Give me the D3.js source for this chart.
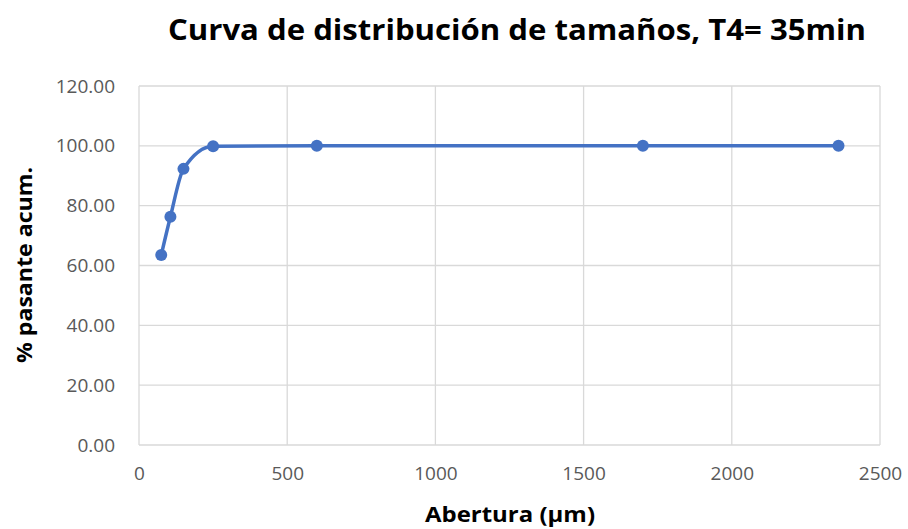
<!DOCTYPE html>
<html><head><meta charset="utf-8">
<script src="https://cdn.jsdelivr.net/npm/d3@7"></script>
<style>body{margin:0;background:#fff}svg{display:block}</style>
</head><body>
<svg id="c" width="908" height="529"></svg>
<script>
const aperture = [75, 106, 150, 250, 600, 1700, 2360];
const passing = [63.5, 76.3, 92.3, 99.9, 100, 100, 100];
const xTicks = [0, 500, 1000, 1500, 2000, 2500];
const yTicks = [0, 20, 40, 60, 80, 100, 120];
const title = "Curva de distribución de tamaños, T4= 35min";
const xTitle = "Abertura  (µm)";
const yTitle = "% pasante acum.";

const svg = d3.select("#c");
const font = "'Open Sans', 'Liberation Sans', sans-serif";
const L = 139, R = 880, T = 86, B = 445;
const x = d3.scaleLinear().domain([0, 2500]).range([L, R]);
const y = d3.scaleLinear().domain([0, 120]).range([B, T]);

// gridlines
svg.append("g").selectAll("line").data(yTicks).join("line")
  .attr("x1", L).attr("x2", R).attr("y1", d => y(d)).attr("y2", d => y(d))
  .attr("stroke", "#d9d9d9").attr("stroke-width", 1.3);
svg.append("g").selectAll("line").data(xTicks).join("line")
  .attr("y1", T).attr("y2", B).attr("x1", d => x(d)).attr("x2", d => x(d))
  .attr("stroke", "#d9d9d9").attr("stroke-width", 1.3);

// axes labels
const xa = d3.axisBottom(x).tickValues(xTicks).tickSize(0).tickPadding(22).tickFormat(d3.format("d"));
const gx = svg.append("g").attr("transform", `translate(0,${B})`).call(xa);
gx.select(".domain").remove();
gx.selectAll("text").attr("font-family", font).attr("font-size", 19).attr("fill", "#595959");

const ya = d3.axisLeft(y).tickValues(yTicks).tickSize(0).tickPadding(24).tickFormat(d3.format(".2f"));
const gy = svg.append("g").attr("transform", `translate(${L},0)`).call(ya);
gy.select(".domain").remove();
gy.selectAll("text").attr("font-family", font).attr("font-size", 19).attr("fill", "#595959");

// line
const pts = aperture.map((a, i) => [a, passing[i]]);
const line = d3.line().x(d => x(d[0])).y(d => y(d[1])).curve(d3.curveMonotoneX);
svg.append("path").datum(pts).attr("d", line)
  .attr("fill", "none").attr("stroke", "#4472C4").attr("stroke-width", 3.5)
  .attr("stroke-linejoin", "round");
svg.append("g").selectAll("circle").data(pts).join("circle")
  .attr("cx", d => x(d[0])).attr("cy", d => y(d[1])).attr("r", 6)
  .attr("fill", "#4472C4");

// titles
svg.append("text").attr("x", 517).attr("y", 40).attr("text-anchor", "middle")
  .attr("font-family", font).attr("font-weight", "bold").attr("font-size", 28)
  .attr("textLength", 698).attr("lengthAdjust", "spacingAndGlyphs")
  .attr("fill", "#000").text(title);
svg.append("text").attr("x", 510).attr("y", 522).attr("text-anchor", "middle")
  .attr("font-family", font).attr("font-weight", "bold").attr("font-size", 21)
  .attr("textLength", 170).attr("lengthAdjust", "spacingAndGlyphs")
  .attr("fill", "#000").text(xTitle);
svg.append("text").attr("transform", "translate(32,265) rotate(-90)").attr("text-anchor", "middle")
  .attr("font-family", font).attr("font-weight", "bold").attr("font-size", 21)
  .attr("textLength", 196).attr("lengthAdjust", "spacingAndGlyphs")
  .attr("fill", "#000").text(yTitle);
</script>
</body></html>
